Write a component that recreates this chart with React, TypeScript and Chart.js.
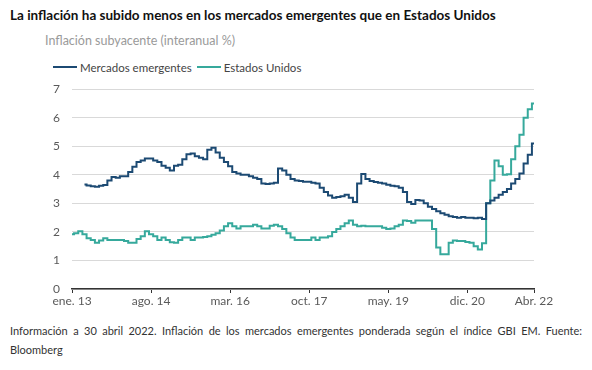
import React, { useEffect, useRef } from "react";
import { Chart, registerables } from "chart.js";

Chart.register(...registerables);

// Monthly index 0 = Jan 2013 ... 111 = Apr 2022
const TICK_POS = [0, 19, 38, 57, 76, 95, 111];
const TICK_LABELS = ["ene. 13", "ago. 14", "mar. 16", "oct. 17", "may. 19", "dic. 20", "Abr. 22"];

const SERIES_NAMES = ["Mercados emergentes", "Estados Unidos"];

const EMERGENTES: (number | null)[] = [
  null, null, null, 3.66, 3.63, 3.6, 3.58, 3.62, 3.64, 3.8,
  3.92, 3.9, 3.95, 3.95, 4.1, 4.28, 4.45, 4.5, 4.57, 4.57,
  4.5, 4.45, 4.32, 4.25, 4.15, 4.32, 4.35, 4.55, 4.72, 4.75,
  4.65, 4.6, 4.55, 4.88, 4.95, 4.78, 4.6, 4.45, 4.3, 4.1,
  4.05, 4.0, 4.0, 3.95, 3.9, 3.85, 3.7, 3.68, 3.7, 3.72,
  4.22, 4.15, 4.0, 3.85, 3.8, 3.78, 3.76, 3.76, 3.72, 3.7,
  3.55, 3.4, 3.28, 3.2, 3.22, 3.25, 3.3, 3.2, 3.05, 3.7,
  4.03, 3.85, 3.78, 3.75, 3.72, 3.7, 3.65, 3.62, 3.6, 3.55,
  3.4, 3.05, 2.98, 3.12, 3.1, 3.0, 2.88, 2.8, 2.72, 2.65,
  2.6, 2.55, 2.52, 2.5, 2.52, 2.5, 2.5, 2.48, 2.5, 2.45,
  3.0, 3.1, 3.2, 3.3, 3.4, 3.5, 3.7, 3.85, 4.05, 4.4,
  4.7, 5.1,
];

const ESTADOS_UNIDOS: number[] = [
  1.92, 1.95, 2.02, 1.92, 1.78, 1.72, 1.62, 1.7, 1.78, 1.72,
  1.72, 1.72, 1.72, 1.68, 1.62, 1.62, 1.75, 1.85, 2.02, 1.92,
  1.85, 1.72, 1.8, 1.72, 1.64, 1.62, 1.72, 1.8, 1.8, 1.72,
  1.8, 1.8, 1.82, 1.85, 1.9, 1.95, 2.05, 2.2, 2.3, 2.2,
  2.12, 2.2, 2.2, 2.2, 2.25, 2.2, 2.12, 2.12, 2.22, 2.25,
  2.2, 2.1, 1.95, 1.8, 1.72, 1.72, 1.72, 1.72, 1.8, 1.72,
  1.8, 1.8, 1.85, 2.0, 2.1, 2.2, 2.3, 2.4, 2.25, 2.2,
  2.22, 2.2, 2.2, 2.2, 2.2, 2.15, 2.1, 2.12, 2.2, 2.25,
  2.4, 2.38, 2.32, 2.4, 2.4, 2.4, 2.4, 2.1, 1.45, 1.22,
  1.22, 1.62, 1.7, 1.68, 1.68, 1.65, 1.62, 1.5, 1.38, 1.6,
  3.0, 3.8, 4.5, 4.3, 4.0, 4.02, 4.55, 5.0, 5.4, 6.0,
  6.3, 6.5,
];

const EM_COLOR = "#1c4a73";
const US_COLOR = "#36a99c";
const FONT = "Lato, 'Open Sans', sans-serif";

export default function App() {
  const ref = useRef<HTMLCanvasElement | null>(null);

  useEffect(() => {
    if (!ref.current) return;
    const toPts = (arr: (number | null)[]) => arr.map((v, i) => ({ x: i, y: v }));
    const chart = new Chart(ref.current, {
      type: "line",
      data: {
        datasets: [
          {
            label: SERIES_NAMES[0],
            data: toPts(EMERGENTES) as any,
            borderColor: EM_COLOR,
            borderWidth: 2,
            pointRadius: 0,
            stepped: "middle",
          },
          {
            label: SERIES_NAMES[1],
            data: toPts(ESTADOS_UNIDOS) as any,
            borderColor: US_COLOR,
            borderWidth: 2,
            pointRadius: 0,
            stepped: "middle",
          },
        ],
      },
      options: {
        responsive: false,
        animation: false,
        layout: { padding: { left: 0, right: 58, top: 12, bottom: 0 } },
        plugins: {
          legend: { display: false },
          title: { display: false },
          tooltip: { enabled: false },
        },
        scales: {
          x: {
            type: "linear",
            min: 0,
            max: 111,
            afterBuildTicks: (s: any) => {
              s.ticks = TICK_POS.map((v) => ({ value: v }));
            },
            afterFit: (s: any) => {
              s.height = 21;
            },
            ticks: {
              autoSkip: false,
              maxRotation: 0,
              padding: 1,
              color: "#5a5a5a",
              font: { family: FONT, size: 12 },
              callback: (v: any) => {
                const i = TICK_POS.indexOf(Number(v));
                return i >= 0 ? TICK_LABELS[i] : "";
              },
            },
            grid: {
              display: true,
              drawOnChartArea: false,
              drawTicks: true,
              tickLength: 4,
              color: "#333333",
              lineWidth: 1,
            },
            border: { display: true, color: "#333333", width: 1.5 },
          },
          y: {
            min: 0,
            max: 7,
            afterFit: (s: any) => {
              s.width = 72;
            },
            ticks: {
              stepSize: 1,
              padding: 12,
              color: "#5a5a5a",
              font: { family: FONT, size: 12 },
            },
            grid: { color: "#d9d9d9", lineWidth: 1, drawTicks: false },
            border: { display: false },
          },
        },
      },
    });
    return () => chart.destroy();
  }, []);

  return (
    <div
      style={{
        position: "absolute",
        left: 0,
        top: 0,
        width: 592,
        height: 370,
        background: "#fff",
        fontFamily: FONT,
        overflow: "hidden",
      }}
    >
      <div
        style={{
          position: "absolute",
          left: 10,
          top: 7,
          fontSize: 13.5,
          fontWeight: 700,
          color: "#111",
          whiteSpace: "nowrap",
        }}
      >
        La inflación ha subido menos en los mercados emergentes que en Estados Unidos
      </div>
      <div
        style={{
          position: "absolute",
          left: 45,
          top: 33,
          fontSize: 12.5,
          color: "#9a9a9a",
          whiteSpace: "nowrap",
        }}
      >
        Inflación subyacente (interanual %)
      </div>
      <div
        style={{
          position: "absolute",
          left: 53,
          top: 59,
          fontSize: 11.5,
          color: "#444",
          whiteSpace: "nowrap",
          display: "flex",
          alignItems: "center",
          height: 16,
        }}
      >
        <span style={{ display: "inline-block", width: 24, height: 2, background: EM_COLOR, marginRight: 3 }} />
        <span style={{ marginRight: 5 }}>{SERIES_NAMES[0]}</span>
        <span style={{ display: "inline-block", width: 24, height: 2, background: US_COLOR, marginRight: 3 }} />
        <span>{SERIES_NAMES[1]}</span>
      </div>
      <canvas
        ref={ref}
        width={592}
        height={240}
        style={{ position: "absolute", left: 0, top: 70, width: 592, height: 240 }}
      />
      <div
        style={{
          position: "absolute",
          left: 10,
          top: 321,
          width: 572,
          fontSize: 11,
          lineHeight: "19px",
          color: "#333",
          textAlign: "justify",
        }}
      >
        Información a 30 abril 2022. Inflación de los mercados emergentes ponderada según el índice GBI EM. Fuente: Bloomberg
      </div>
    </div>
  );
}
